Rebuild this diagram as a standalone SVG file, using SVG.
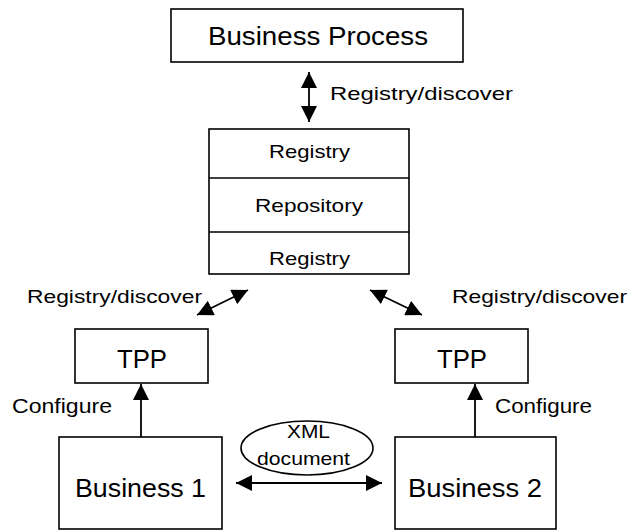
<svg xmlns="http://www.w3.org/2000/svg" width="631" height="532" viewBox="0 0 631 532">
<style>
.box{fill:#fff;stroke:#000;stroke-width:1.6}
.ln{stroke:#000;stroke-width:1.6;fill:none}
.t{font-family:"Liberation Sans",Arial,sans-serif;fill:#000}
.con{stroke:#000;stroke-width:1.8;fill:none}
</style>
<defs>
<marker id="ah" viewBox="0 0 16 16" refX="16" refY="8" markerWidth="16" markerHeight="16" markerUnits="userSpaceOnUse" orient="auto-start-reverse">
<path d="M0,0 L16,8 L0,16 z" fill="#000"/>
</marker>
</defs>
<rect width="631" height="532" fill="#fff"/>
<g id="business-process">
<rect class="box" x="171" y="9" width="292" height="53"/>
<text class="t" x="208" y="45" font-size="25" textLength="220" lengthAdjust="spacingAndGlyphs">Business Process</text>
</g>
<g id="registry-stack">
<rect class="box" x="209" y="129" width="200" height="145"/>
<line class="ln" x1="209" y1="178" x2="409" y2="178"/>
<line class="ln" x1="209" y1="232" x2="409" y2="232"/>
<text class="t" x="269" y="158" font-size="18.5" textLength="81" lengthAdjust="spacingAndGlyphs">Registry</text>
<text class="t" x="255" y="212" font-size="18.5" textLength="108" lengthAdjust="spacingAndGlyphs">Repository</text>
<text class="t" x="269" y="265" font-size="18.5" textLength="81" lengthAdjust="spacingAndGlyphs">Registry</text>
</g>
<g id="tpp1">
<rect class="box" x="75" y="329" width="133" height="54"/>
<text class="t" x="117" y="368" font-size="25" textLength="50" lengthAdjust="spacingAndGlyphs">TPP</text>
</g>
<g id="tpp2">
<rect class="box" x="395" y="329" width="133" height="54"/>
<text class="t" x="437" y="368" font-size="25" textLength="50" lengthAdjust="spacingAndGlyphs">TPP</text>
</g>
<g id="business1">
<rect class="box" x="59" y="437" width="163" height="92"/>
<text class="t" x="75" y="497" font-size="26" textLength="131" lengthAdjust="spacingAndGlyphs">Business 1</text>
</g>
<g id="business2">
<rect class="box" x="395" y="437" width="161" height="92"/>
<text class="t" x="408" y="497" font-size="26" textLength="134" lengthAdjust="spacingAndGlyphs">Business 2</text>
</g>
<g id="xml-document">
<ellipse class="ln" cx="307" cy="448" rx="66" ry="27"/>
<text class="t" x="287" y="438" font-size="19" textLength="43" lengthAdjust="spacingAndGlyphs">XML</text>
<text class="t" x="257" y="465" font-size="19" textLength="93" lengthAdjust="spacingAndGlyphs">document</text>
</g>
<g id="connectors">
<line class="con" x1="309" y1="72" x2="309" y2="122" marker-start="url(#ah)" marker-end="url(#ah)"/>
<line class="con" x1="197" y1="315" x2="248" y2="290" marker-start="url(#ah)" marker-end="url(#ah)"/>
<line class="con" x1="370" y1="290" x2="422" y2="315" marker-start="url(#ah)" marker-end="url(#ah)"/>
<line class="con" x1="141" y1="437" x2="141" y2="384" marker-end="url(#ah)"/>
<line class="con" x1="475" y1="437" x2="475" y2="384" marker-end="url(#ah)"/>
<line class="con" x1="236" y1="483" x2="382" y2="483" marker-start="url(#ah)" marker-end="url(#ah)"/>
</g>
<g id="labels">
<text class="t" x="330" y="100" font-size="18.5" textLength="183" lengthAdjust="spacingAndGlyphs">Registry/discover</text>
<text class="t" x="27" y="303" font-size="18.5" textLength="175" lengthAdjust="spacingAndGlyphs">Registry/discover</text>
<text class="t" x="452" y="303" font-size="18.5" textLength="175" lengthAdjust="spacingAndGlyphs">Registry/discover</text>
<text class="t" x="12" y="413" font-size="19.5" textLength="100" lengthAdjust="spacingAndGlyphs">Configure</text>
<text class="t" x="495" y="413" font-size="19.5" textLength="97" lengthAdjust="spacingAndGlyphs">Configure</text>
</g>
</svg>
